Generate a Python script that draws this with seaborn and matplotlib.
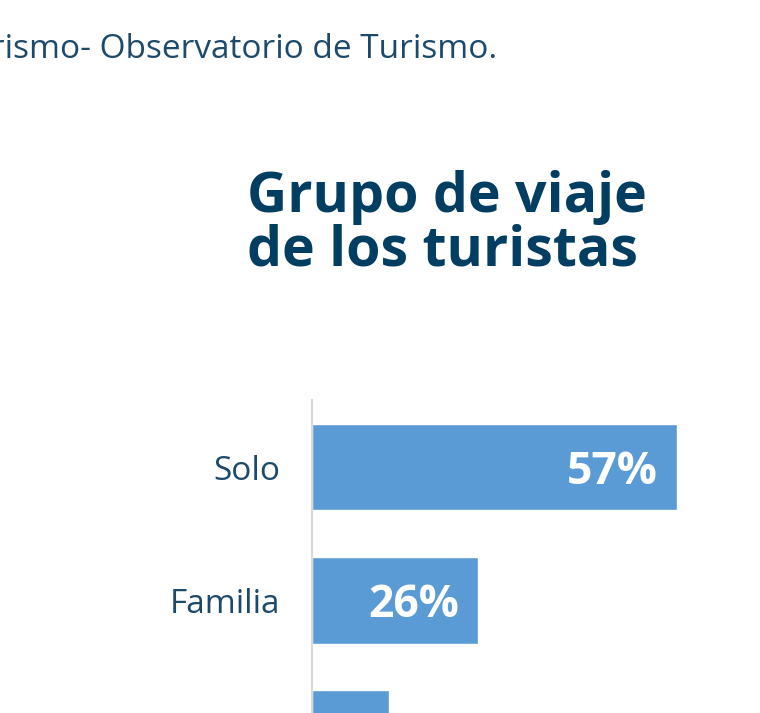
import matplotlib
matplotlib.use('Agg')
import matplotlib.pyplot as plt
import seaborn as sns
import pandas as pd

# ── Data ──────────────────────────────────────────────────────────────────────
grupos = ['Solo', 'Familia', 'Pareja']
porcentajes = [57, 26, 12]

TITLE_LINES = ['Grupo de viaje', 'de los turistas']
SOURCE = 'Turismo- Observatorio de Turismo.'

NAVY = '#023e62'
LABEL = '#1d4a6b'
BAR = '#5b9bd5'

sns.set_theme(style='white')
plt.rcParams['font.family'] = ['Open Sans', 'DejaVu Sans']

df = pd.DataFrame({'grupo': grupos, 'pct': porcentajes})

fig = plt.figure(figsize=(7.6, 7.13), dpi=100)
fig.patch.set_facecolor('white')

# axes runs past the bottom edge, like the cropped reference
ax = fig.add_axes([312 / 760, -0.122, 384 / 760, 400 / 713])
sns.barplot(data=df, x='pct', y='grupo', orient='h', color=BAR, width=0.65,
            saturation=1, ax=ax)
ax.set_xlim(0, 60)
ax.set_ylim(2.5, -0.504)

for i, v in enumerate(porcentajes):
    ax.annotate(f'{v}%', xy=(v, i), xytext=(-14, 0), textcoords='offset points',
                ha='right', va='center_baseline', color='white', fontsize=32,
                fontweight='bold')

for s in ['top', 'right', 'bottom']:
    ax.spines[s].set_visible(False)
ax.spines['left'].set_color('#d9d9d9')
ax.spines['left'].set_linewidth(1.5)
ax.set_xticks([])
ax.set_xlabel('')
ax.set_ylabel('')
ax.tick_params(axis='y', length=0, pad=23, labelsize=24, labelcolor=LABEL)

# title, one baseline per line
for line, ybase in zip(TITLE_LINES, [212, 265]):
    fig.text(247 / 760, 1 - ybase / 713, line, ha='left', va='baseline',
             fontsize=40, fontweight='bold', color=NAVY)
fig.text(497 / 760, 1 - 58 / 713, SOURCE, ha='right', va='baseline',
         fontsize=24, color=LABEL)

plt.savefig('out.png', dpi=100)
